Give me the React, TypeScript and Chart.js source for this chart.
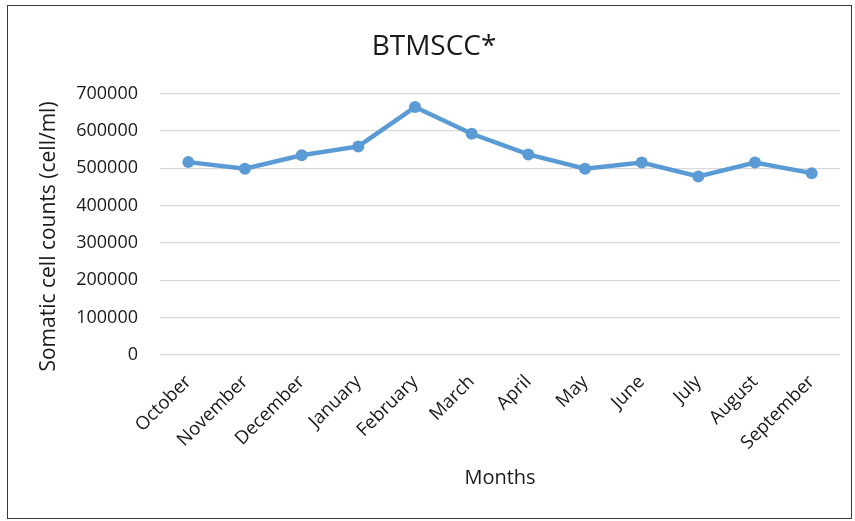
import React, { useEffect, useRef } from "react";
import { Chart, registerables } from "chart.js";

Chart.register(...registerables);

const months = ["October", "November", "December", "January", "February", "March", "April", "May", "June", "July", "August", "September"];
const btmscc = [516500, 499000, 535000, 558500, 664000, 592500, 537000, 499000, 515500, 478000, 515500, 487000];
const yTicks = [0, 100000, 200000, 300000, 400000, 500000, 600000, 700000];
const yTitle = "Somatic cell counts (cell/ml)";

const FONT = "'Open Sans', 'Noto Sans', sans-serif";

const yTitlePlugin = {
  id: "yTitlePlugin",
  afterDraw(chart: any) {
    const ctx = chart.ctx;
    ctx.save();
    ctx.translate(41.5, 230.5);
    ctx.rotate(-Math.PI / 2);
    ctx.font = `21px ${FONT}`;
    ctx.fillStyle = "#1a1a1a";
    ctx.textAlign = "center";
    ctx.textBaseline = "middle";
    ctx.fillText(yTitle, 0, 0);
    ctx.restore();
  },
};

export default function App() {
  const ref = useRef<HTMLCanvasElement | null>(null);

  useEffect(() => {
    if (!ref.current) return;
    const chart = new Chart(ref.current, {
      type: "line",
      data: {
        labels: months,
        datasets: [
          {
            label: "BTMSCC",
            data: btmscc,
            borderColor: "#5B9BD5",
            backgroundColor: "#5B9BD5",
            borderWidth: 4.5,
            pointRadius: 6,
            pointBorderWidth: 0,
            pointBackgroundColor: "#5B9BD5",
            tension: 0,
          },
        ],
      },
      plugins: [yTitlePlugin],
      options: {
        responsive: false,
        animation: false,
        layout: { padding: { left: 20, right: 11, top: 0, bottom: 20 } },
        plugins: {
          legend: { display: false },
          tooltip: { enabled: false },
          title: {
            display: true,
            text: "BTMSCC*",
            color: "#1a1a1a",
            font: { family: FONT, size: 28, weight: "normal" },
            padding: { top: 24, bottom: 30 },
          },
        },
        scales: {
          x: {
            offset: true,
            grid: { display: false, drawTicks: false },
            border: { display: false },
            ticks: {
              minRotation: 45,
              maxRotation: 45,
              autoSkip: false,
              padding: 16,
              color: "#1a1a1a",
              font: { family: FONT, size: 18.5 },
            },
            title: {
              display: true,
              text: "Months",
              color: "#1a1a1a",
              font: { family: FONT, size: 20 },
              padding: { top: 0, bottom: 8 },
            },
            afterFit: (s: any) => {
              s.height = 143;
            },
          },
          y: {
            min: 0,
            max: 700000,
            afterBuildTicks: (s: any) => {
              s.ticks = yTicks.map((v) => ({ value: v }));
            },
            grid: { color: "#D9D9D9", lineWidth: 1.3, drawTicks: false },
            border: { display: false },
            ticks: {
              padding: 22,
              color: "#1a1a1a",
              font: { family: FONT, size: 18 },
              callback: (v: any) => String(v),
            },
            afterFit: (s: any) => {
              s.width = 132;
            },
          },
        },
      },
    });
    return () => chart.destroy();
  }, []);

  return (
    <div
      style={{
        position: "fixed",
        left: 7,
        top: 5,
        width: 845,
        height: 514,
        boxSizing: "border-box",
        border: "1.5px solid #3a3a3a",
        background: "#fff",
      }}
    >
      <canvas ref={ref} width={843} height={512} style={{ position: "absolute", left: 0, top: 0 }} />
    </div>
  );
}
